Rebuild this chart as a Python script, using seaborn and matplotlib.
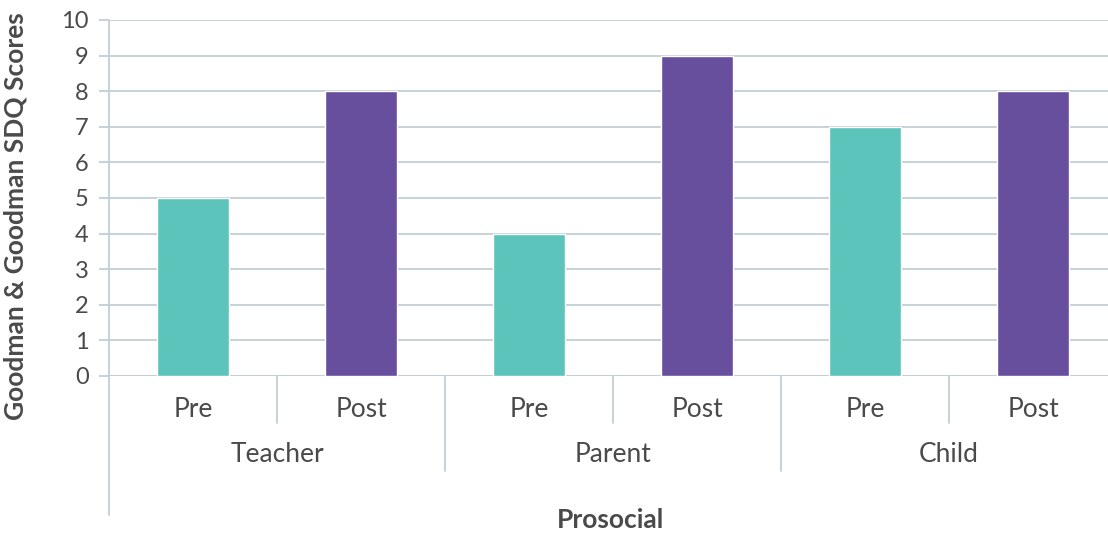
import matplotlib
matplotlib.use("Agg")
import matplotlib.pyplot as plt
import seaborn as sns
import pandas as pd

groups = ["Teacher", "Parent", "Child"]
phases = ["Pre", "Post"]
pre_values = [5, 4, 7]
post_values = [8, 9, 8]
y_ticks = [0, 1, 2, 3, 4, 5, 6, 7, 8, 9, 10]
y_label = "Goodman & Goodman SDQ Scores"
x_label = "Prosocial"

rows = []
for g, pre, post in zip(groups, pre_values, post_values):
    rows.append({"slot": f"{g} Pre", "phase": "Pre", "value": pre})
    rows.append({"slot": f"{g} Post", "phase": "Post", "value": post})
df = pd.DataFrame(rows)

sns.set_theme(style="white")
plt.rcParams["font.family"] = ["Lato", "DejaVu Sans"]

W, H = 1108, 533
fig = plt.figure(figsize=(W / 100, H / 100), dpi=100)
left_px, right_px, top_px, bottom_px = 109, 1117, 20, 376
ax = fig.add_axes([left_px / W, 1 - bottom_px / H, (right_px - left_px) / W, (bottom_px - top_px) / H])

palette = {"Pre": "#5CC4BB", "Post": "#674F9E"}
sns.barplot(data=df, x="slot", y="value", hue="phase", palette=palette,
            dodge=False, width=0.43, ax=ax, legend=False, saturation=1, zorder=3)

grid_c = "#C3CED5"
text_c = "#4A4A4A"
ax.set_ylim(0, 10)
ax.set_xlim(-0.5, 5.5)
ax.set_yticks(y_ticks)
ax.yaxis.grid(True, color=grid_c, linewidth=1.3, zorder=0)
ax.set_axisbelow(True)
for s in ax.spines.values():
    s.set_visible(False)
ax.tick_params(axis="y", length=7.5, width=1.3, color=grid_c, labelsize=17, labelcolor=text_c, pad=7, left=True)
ax.tick_params(axis="x", length=0, labelsize=19, labelcolor=text_c, pad=15)
ax.set_xticks(range(len(df)))
ax.set_xticklabels(df["phase"].tolist())
ax.set_xlabel("")
ax.set_ylabel(y_label, fontsize=19, fontweight="bold", color=text_c)

ph = bottom_px - top_px
def yfrac(px):
    return -(px - bottom_px) / ph

ax.yaxis.set_label_coords((28 - left_px) / (right_px - left_px), yfrac(216))

trans = ax.get_xaxis_transform()
# left axis line
ax.plot([-0.5, -0.5], [yfrac(515), 1.0], transform=trans, color=grid_c, lw=1.3, clip_on=False)
# separators
for i in range(len(groups)):
    ax.plot([2 * i + 0.5] * 2, [0, yfrac(423)], transform=trans, color=grid_c, lw=1.3, clip_on=False)
    ax.plot([2 * i + 1.5] * 2, [0, yfrac(471)], transform=trans, color=grid_c, lw=1.3, clip_on=False)
    ax.text(2 * i + 0.5, yfrac(455), groups[i], transform=trans, ha="center", va="center",
            fontsize=19, color=text_c)
# baseline
ax.axhline(0, color=grid_c, lw=1.3, zorder=2)

fig.text(610 / W, 1 - 520 / H, x_label, ha="center", va="center", fontsize=19,
         fontweight="bold", color=text_c)

fig.savefig("out.png", dpi=100)
